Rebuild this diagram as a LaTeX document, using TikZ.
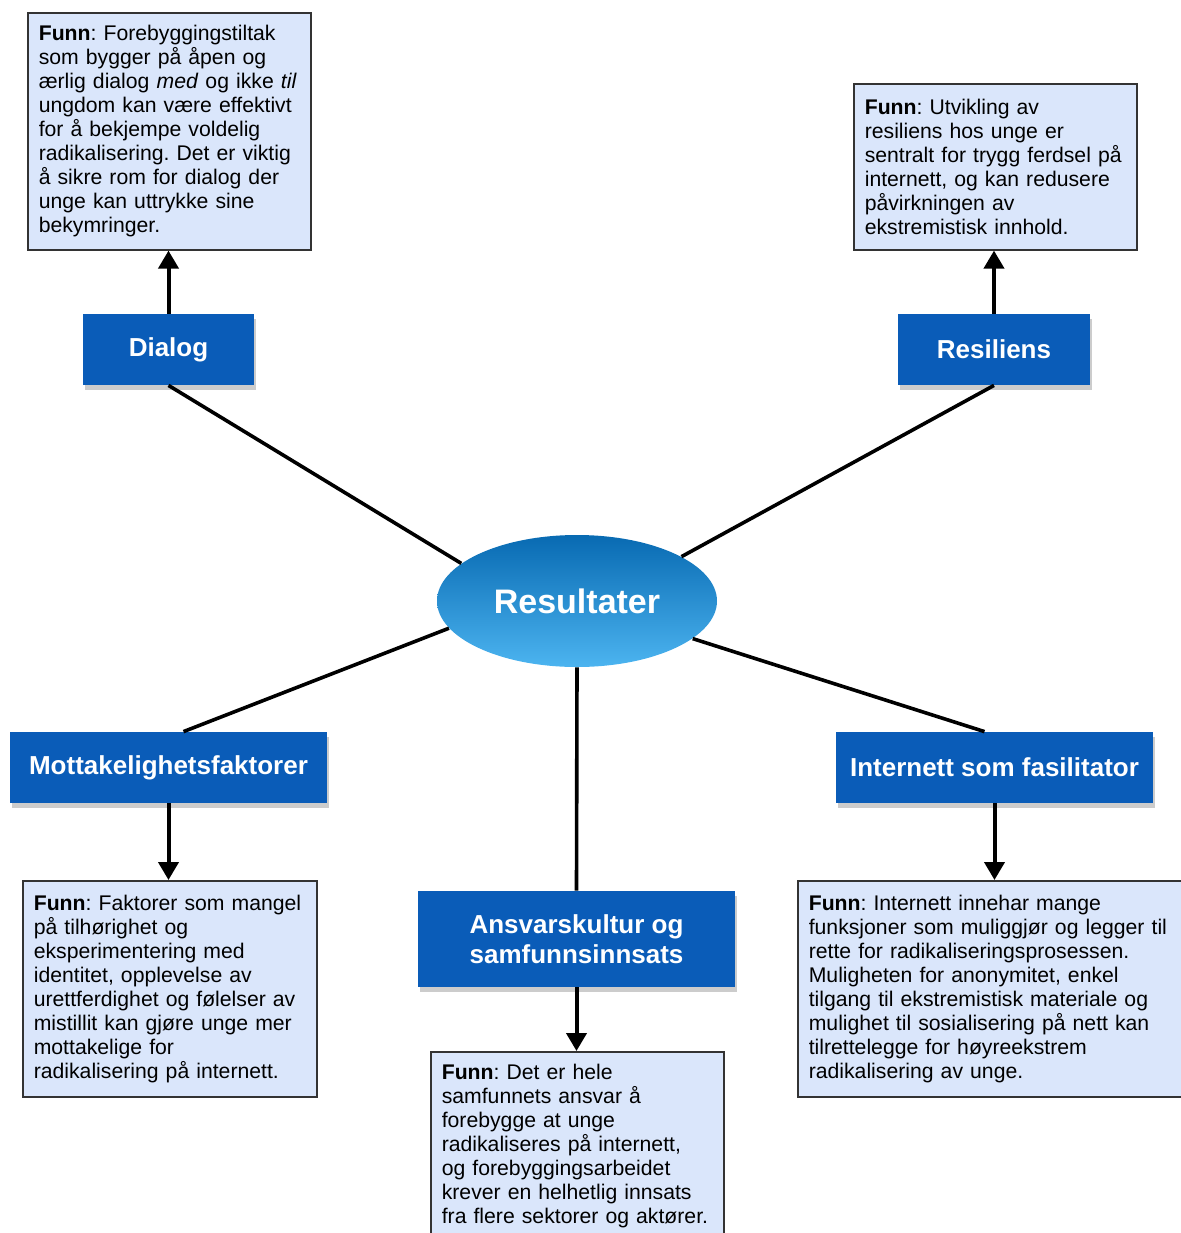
\documentclass[tikz,border=0pt]{standalone}
\usepackage{fontspec}
\setmainfont{Liberation Sans}
\usetikzlibrary{shapes.geometric,arrows.meta,shadows}
\definecolor{funnblue}{RGB}{218,230,251}
\definecolor{boxblue}{RGB}{10,92,184}
\definecolor{restop}{RGB}{8,106,178}
\definecolor{resbot}{RGB}{76,180,240}
\frenchspacing
\hyphenpenalty=10000
\begin{document}
\begin{tikzpicture}[x=0.5pt,y=-0.5pt,>={Triangle[length=9pt,width=10pt]},
  funn/.style={draw=black!80,line width=0.8pt,fill=funnblue,anchor=north west,align=left,inner xsep=5.5pt,inner ysep=0pt,font=\fontsize{10.6}{12}\selectfont},
  tema/.style={fill=boxblue,text=white,font=\fontsize{13}{15}\selectfont\bfseries,align=center,inner sep=0pt,drop shadow={shadow xshift=1pt,shadow yshift=-2.5pt,opacity=.4}},
  kant/.style={line width=1.8pt},
  pil/.style={->,line width=2pt}]
\useasboundingbox (0,0) rectangle (1180,1233);
\node[ellipse,minimum width=140pt,minimum height=66pt,inner sep=0pt,top color=restop,bottom color=resbot,text=white,font=\fontsize{17}{20}\selectfont\bfseries] (res) at (577,601) {Resultater};
\node[tema,minimum width=85.5pt,minimum height=35.5pt] (dialog) at (168.5,349.5) {Dialog};
\node[tema,minimum width=96pt,minimum height=35.5pt] (resil) at (994,349.5) {Resiliens};
\node[tema,minimum width=158.5pt,minimum height=35.5pt] (mottak) at (168.5,767.5) {Mottakelighetsfaktorer};
\node[tema,minimum width=158.5pt,minimum height=35.5pt] (intern) at (994.5,767.5) {Internett som fasilitator};
\node[tema,minimum width=158.5pt,minimum height=48pt] (ansvar) at (576.5,939) {Ansvarskultur og\\samfunnsinnsats};
\node[funn,text width=130.5pt,minimum height=118.5pt] (funnA) at (27,12) {\textbf{Funn}: Forebyggingstiltak\\som bygger på åpen og\\ærlig dialog \textit{med} og ikke \textit{til}\\ungdom kan være effektivt\\for å bekjempe voldelig\\radikalisering. Det er viktig\\å sikre rom for dialog der\\unge kan uttrykke sine\\bekymringer.};
\node[funn,text width=130.5pt,minimum height=83pt] (funnB) at (853,83) {\textbf{Funn}: Utvikling av\\resiliens hos unge er\\sentralt for trygg ferdsel på\\internett, og kan redusere\\påvirkningen av\\ekstremistisk innhold.};
\node[funn,text width=136pt,minimum height=108pt] (funnC) at (22,880) {\textbf{Funn}: Faktorer som mangel\\på tilhørighet og\\eksperimentering med\\identitet, opplevelse av\\urettferdighet og følelser av\\mistillit kan gjøre unge mer\\mottakelige for\\radikalisering på internett.};
\node[funn,text width=181.5pt,minimum height=108pt] (funnD) at (797,880) {\textbf{Funn}: Internett innehar mange\\funksjoner som muliggjør og legger til\\rette for radikaliseringsprosessen.\\Muligheten for anonymitet, enkel\\tilgang til ekstremistisk materiale og\\mulighet til sosialisering på nett kan\\tilrettelegge for høyreekstrem\\radikalisering av unge.};
\node[funn,text width=135.5pt,minimum height=94pt] (funnE) at (430,1051) {\textbf{Funn}: Det er hele\\samfunnets ansvar å\\forebygge at unge\\radikaliseres på internett,\\og forebyggingsarbeidet\\krever en helhetlig innsats\\fra flere sektorer og aktører.};
\draw[kant] (dialog.south) -- (res.162);
\draw[kant] (resil.south) -- (res.23.6);
\draw[kant] ([xshift=7.5pt]mottak.north) -- (res.192.9);
\draw[kant] ([xshift=-5pt]intern.north) -- (res.342.6);
\draw[kant] (res.south) -- (ansvar.north);
\draw[pil] (dialog.north) -- (dialog.north |- funnA.south);
\draw[pil] (resil.north) -- (resil.north |- funnB.south);
\draw[pil] (mottak.south) -- (mottak.south |- funnC.north);
\draw[pil] (intern.south) -- (intern.south |- funnD.north);
\draw[pil] (ansvar.south) -- (ansvar.south |- funnE.north);
\end{tikzpicture}
\end{document}
